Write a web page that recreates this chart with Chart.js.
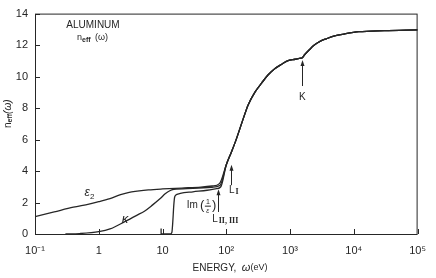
<!DOCTYPE html>
<html>
<head>
<meta charset="utf-8">
<script src="https://cdn.jsdelivr.net/npm/chart.js@4/dist/chart.umd.min.js"></script>
<style>
  html, body { margin: 0; padding: 0; background: #fff; }
  #wrap { width: 436px; height: 278px; }
</style>
</head>
<body>
<div id="wrap"><canvas id="chart" width="436" height="278"></canvas></div>
<script>
// axis ticks
const energyTicks = [0.1, 1, 10, 100, 1000, 10000, 100000];
const energyTickLabels = ['10⁻¹', '1', '10', '10²', '10³', '10⁴', '10⁵'];
const neffTicks = [0, 2, 4, 6, 8, 10, 12, 14];

// low energy parts of the three curves (eV, n_eff)
const e2Energy = [0.1, 0.2, 0.4, 0.7, 1, 1.5, 2.2, 3, 4, 6, 10, 20, 40, 60, 78];
const e2Values = [1.1, 1.4, 1.7, 1.9, 2.05, 2.25, 2.5, 2.65, 2.72, 2.8, 2.86, 2.92, 2.98, 3.05, 3.2];

const kappaEnergy = [0.3, 0.5, 1, 1.5, 2.6, 4, 5.2, 7, 9.2, 11, 13, 15, 30, 60, 80];
const kappaValues = [0, 0.03, 0.15, 0.32, 0.8, 1.2, 1.45, 1.85, 2.25, 2.55, 2.75, 2.83, 2.9, 2.97, 3.1];

const imEnergy = [9.5, 9.5, 13, 14, 14.5, 15, 15.5, 16.5, 19, 30, 50, 70, 82];
const imValues = [0.35, 0, 0, 0.1, 0.8, 1.8, 2.35, 2.5, 2.58, 2.68, 2.78, 2.88, 3.0];

// common high energy part (all three merge above the L edges)
const tailEnergy = [100, 120, 140, 180, 220, 280, 360, 450, 575, 750, 910, 1200, 1480, 1560, 1700, 2000, 2400, 3000, 3700, 5000, 7000, 12000, 30000, 100000];
const tailValues = [4.4, 5.2, 5.9, 7.2, 8.2, 9.0, 9.6, 10.1, 10.5, 10.8, 11.0, 11.1, 11.17, 11.2, 11.4, 11.7, 12.0, 12.25, 12.4, 12.58, 12.7, 12.85, 12.92, 12.97];

function toPoints(xs, ys) {
  const ex = xs.concat(tailEnergy);
  const ey = ys.concat(tailValues);
  return ex.map((x, i) => ({ x: x, y: ey[i] }));
}

const INK = '#262626';
const FONT = '"Liberation Sans", Arial, sans-serif';

const lineStyle = {
  borderColor: INK,
  borderWidth: 1.3,
  pointRadius: 0,
  fill: false,
  cubicInterpolationMode: 'monotone'
};

const annotations = {
  id: 'annotations',
  afterDraw(chart) {
    const ctx = chart.ctx;
    const xs = chart.scales.x, ys = chart.scales.y;
    const a = chart.chartArea;
    ctx.save();
    ctx.strokeStyle = INK;
    ctx.fillStyle = INK;
    ctx.lineWidth = 1;

    // frame
    ctx.strokeRect(a.left + 0.5, a.top + 0.5, a.right - a.left - 1, a.bottom - a.top);

    // inward ticks
    ctx.beginPath();
    energyTicks.forEach(v => {
      const px = Math.round(xs.getPixelForValue(v)) + 0.5;
      ctx.moveTo(px, a.bottom);
      ctx.lineTo(px, a.bottom - 5);
    });
    neffTicks.forEach(v => {
      const py = Math.round(ys.getPixelForValue(v)) + 0.5;
      ctx.moveTo(a.left, py);
      ctx.lineTo(a.left + 5, py);
    });
    ctx.stroke();

    // arrows
    function arrow(e, v0, v1) {
      const px = Math.round(xs.getPixelForValue(e)) + 0.5;
      const y0 = ys.getPixelForValue(v0), y1 = ys.getPixelForValue(v1);
      ctx.beginPath();
      ctx.moveTo(px, y0);
      ctx.lineTo(px, y1 + 4);
      ctx.stroke();
      ctx.beginPath();
      ctx.moveTo(px, y1);
      ctx.lineTo(px - 2, y1 + 6);
      ctx.lineTo(px + 2, y1 + 6);
      ctx.closePath();
      ctx.fill();
    }
    arrow(73, 1.4, 2.85);
    arrow(117, 3.1, 4.4);
    arrow(1560, 9.4, 11.05);

    function txt(s, x, y, size, opts) {
      opts = opts || {};
      ctx.font = (opts.style || '') + ' ' + size + 'px ' + (opts.family || FONT);
      ctx.textAlign = opts.align || 'left';
      ctx.textBaseline = 'middle';
      ctx.fillText(s, x, y);
      return ctx.measureText(s).width;
    }
    const X = e => xs.getPixelForValue(e);
    const Y = v => ys.getPixelForValue(v);

    // title
    txt('ALUMINUM', 93, 25, 10, { align: 'center' });
    let w = txt('n', 77, 38, 9);
    w += txt('eff', 77 + w, 40, 7, { style: 'bold' });
    txt(' (ω)', 77 + w + 2, 38, 9);

    // curve labels
    let cx = X(0.6), cy = Y(2.6);
    w = txt('ε', cx, cy, 12, { style: 'italic' });
    txt('2', cx + w, cy + 4, 8);
    txt('κ', X(2.3), Y(0.95), 13, { style: 'italic' });

    cx = X(24); cy = Y(1.8);
    w = txt('Im', cx, cy, 10);
    txt('(', cx + w + 2, cy, 13);
    txt('1', cx + w + 10, cy - 4, 7, { align: 'center' });
    ctx.beginPath();
    ctx.moveTo(cx + w + 7, cy + 0.5);
    ctx.lineTo(cx + w + 13, cy + 0.5);
    ctx.stroke();
    txt('ε', cx + w + 10, cy + 5, 7, { align: 'center', style: 'italic' });
    txt(')', cx + w + 14, cy, 13);

    // edge labels
    cx = X(60); cy = Y(0.95);
    w = txt('L', cx, cy, 10);
    txt('II, III', cx + w + 1, cy + 2, 8, { family: '"Liberation Serif", serif', style: 'bold' });
    cx = X(110); cy = Y(2.8);
    w = txt('L', cx, cy, 10);
    txt('I', cx + w + 1, cy + 2, 8, { family: '"Liberation Serif", serif', style: 'bold' });
    txt('K', X(1560), Y(8.7), 10, { align: 'center' });

    // axis titles
    cx = 230;
    w = txt('ENERGY,  ', 0, -100, 10);
    const w2 = txt('ω', 0, -100, 11, { style: 'italic' });
    const w3 = txt('(eV)', 0, -100, 9);
    let sx = cx - (w + w2 + w3) / 2;
    txt('ENERGY,  ', sx, 268, 10);
    txt('ω', sx + w, 268, 11, { style: 'italic' });
    txt('(eV)', sx + w + w2, 268, 9);

    ctx.save();
    ctx.translate(8, 111);
    ctx.rotate(-Math.PI / 2);
    let tw = txt('n', -17, 0, 10);
    tw += txt('eff', -17 + tw, 2, 7, { style: 'bold' });
    txt('(ω)', -17 + tw, 0, 10, { style: 'italic' });
    ctx.restore();

    ctx.restore();
  }
};

new Chart(document.getElementById('chart').getContext('2d'), {
  type: 'line',
  data: {
    datasets: [
      Object.assign({ label: 'ε2', data: toPoints(e2Energy, e2Values) }, lineStyle),
      Object.assign({ label: 'κ', data: toPoints(kappaEnergy, kappaValues) }, lineStyle),
      Object.assign({ label: 'Im(1/ε)', data: toPoints(imEnergy, imValues) }, lineStyle)
    ]
  },
  options: {
    responsive: false,
    animation: false,
    events: [],
    layout: { padding: { left: 0, right: 10, top: 7, bottom: 0 } },
    plugins: { legend: { display: false }, tooltip: { enabled: false } },
    scales: {
      x: {
        type: 'logarithmic',
        min: 0.1,
        max: 100000,
        afterBuildTicks: scale => { scale.ticks = energyTicks.map(v => ({ value: v })); },
        afterFit: scale => { scale.height = 44; },
        grid: { display: false, drawTicks: false },
        border: { display: false },
        ticks: {
          autoSkip: false,
          maxRotation: 0,
          padding: 10,
          color: INK,
          font: { family: FONT, size: 11 },
          callback: v => energyTickLabels[energyTicks.indexOf(v)]
        }
      },
      y: {
        min: 0,
        max: 14,
        afterBuildTicks: scale => { scale.ticks = neffTicks.map(v => ({ value: v })); },
        afterFit: scale => { scale.width = 35; },
        grid: { display: false, drawTicks: false },
        border: { display: false },
        ticks: {
          padding: 7,
          color: INK,
          font: { family: FONT, size: 11 }
        }
      }
    }
  },
  plugins: [annotations]
});
</script>
</body>
</html>
